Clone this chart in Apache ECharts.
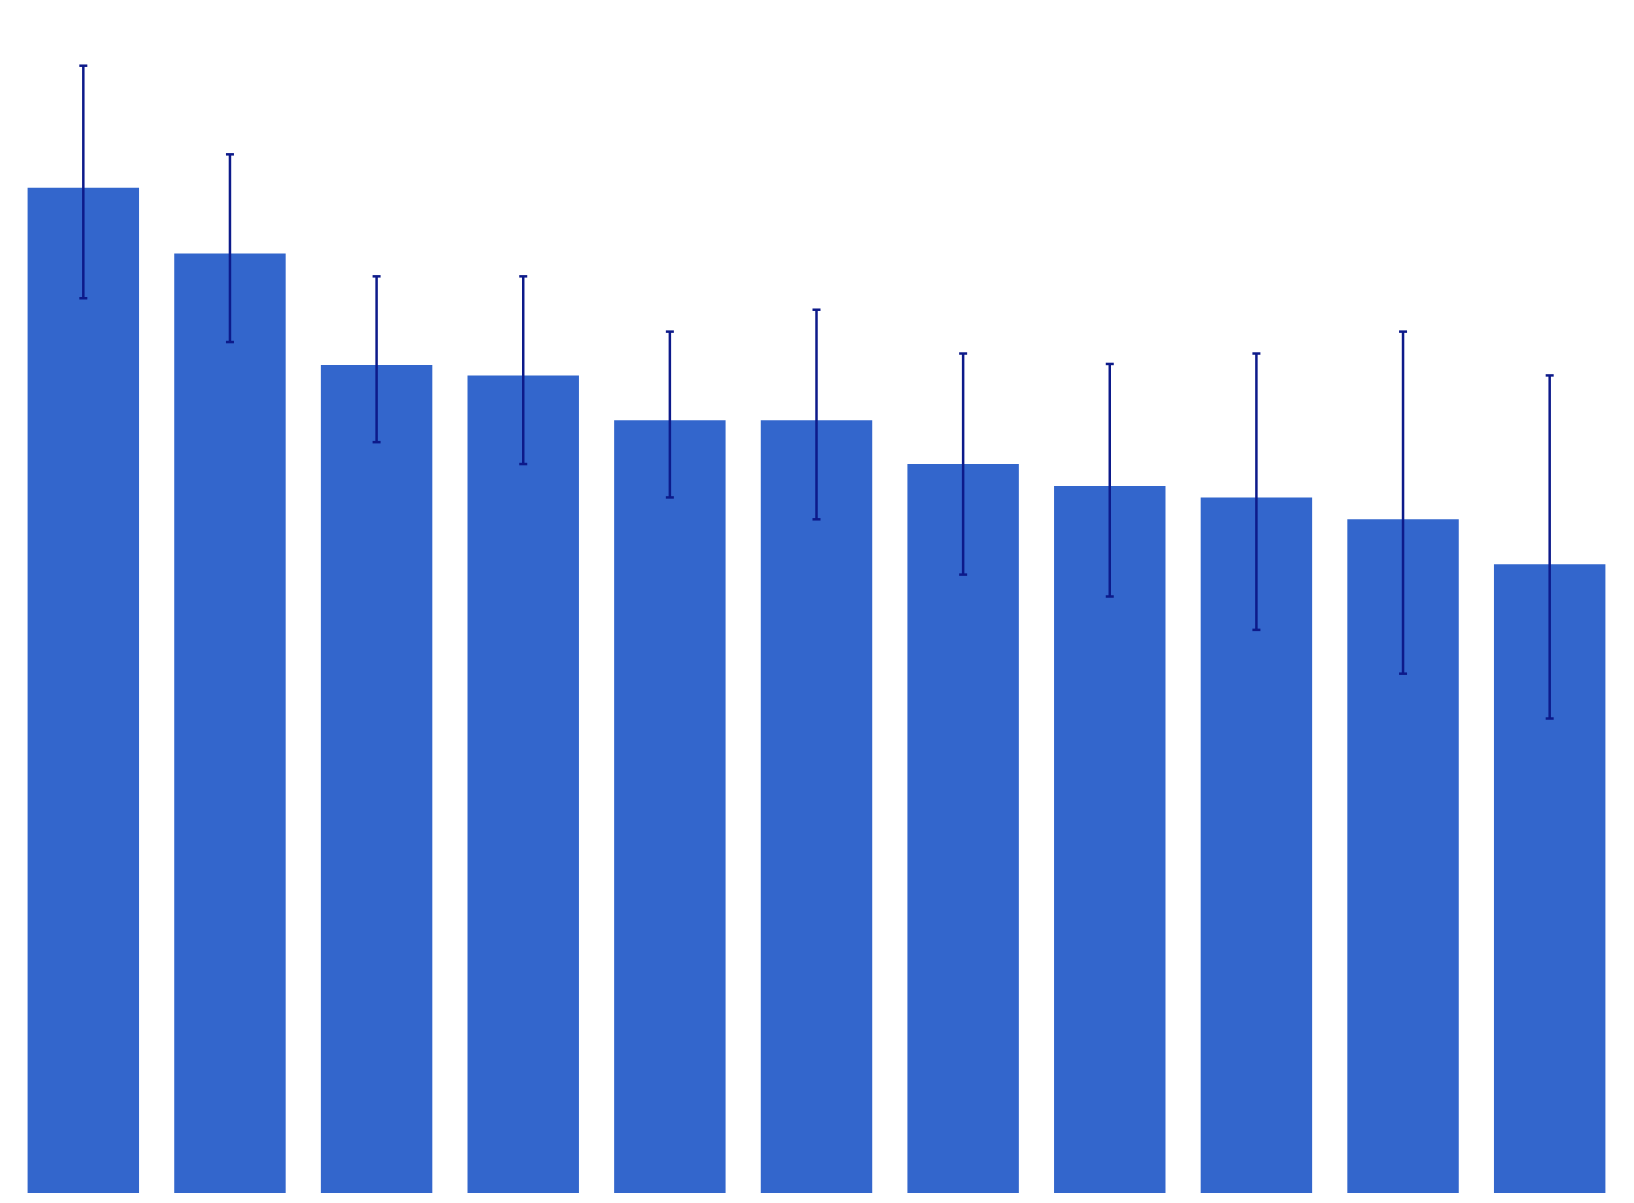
<!DOCTYPE html>
<html>
<head>
<meta charset="UTF-8">
<title>Chart</title>
<style>html,body{margin:0;padding:0;background:#fff}</style>
</head>
<body>
<div id="main" style="width:1634px;height:1203px;"></div>
<script src="https://cdn.jsdelivr.net/npm/echarts@6/dist/echarts.min.js"></script>
<script>
var categories = ['A', 'B', 'C', 'D', 'E', 'F', 'G', 'H', 'I', 'J', 'K'];
var values = [9.64, 9.01, 7.94, 7.84, 7.41, 7.41, 6.99, 6.78, 6.67, 6.46, 6.03];
var errHigh = [10.81, 9.96, 8.79, 8.79, 8.26, 8.47, 8.05, 7.95, 8.05, 8.26, 7.84];
var errLow = [8.58, 8.16, 7.20, 6.99, 6.67, 6.46, 5.93, 5.72, 5.40, 4.98, 4.55];

var errData = categories.map(function (c, i) { return [i, errLow[i], errHigh[i]]; });

var chart = echarts.init(document.getElementById('main'));
chart.setOption({
    animation: false,
    grid: { left: 10, right: 11, top: 0, bottom: 10 },
    xAxis: { type: 'category', data: categories, show: false },
    yAxis: { type: 'value', min: 0, max: 11.44, show: false },
    series: [{
        type: 'bar',
        data: values,
        barCategoryGap: '24%',
        itemStyle: { color: '#3366cc' }
    }, {
        type: 'custom',
        data: errData,
        z: 10,
        renderItem: function (params, api) {
            var x = api.value(0);
            var lo = api.coord([x, api.value(1)]);
            var hi = api.coord([x, api.value(2)]);
            var w = 4;
            var st = { stroke: '#0d1a8a', lineWidth: 2.5 };
            return {
                type: 'group',
                children: [
                    { type: 'line', shape: { x1: hi[0], y1: hi[1], x2: lo[0], y2: lo[1] }, style: st },
                    { type: 'line', shape: { x1: hi[0] - w, y1: hi[1], x2: hi[0] + w, y2: hi[1] }, style: st },
                    { type: 'line', shape: { x1: lo[0] - w, y1: lo[1], x2: lo[0] + w, y2: lo[1] }, style: st }
                ]
            };
        }
    }]
});
</script>
</body>
</html>
